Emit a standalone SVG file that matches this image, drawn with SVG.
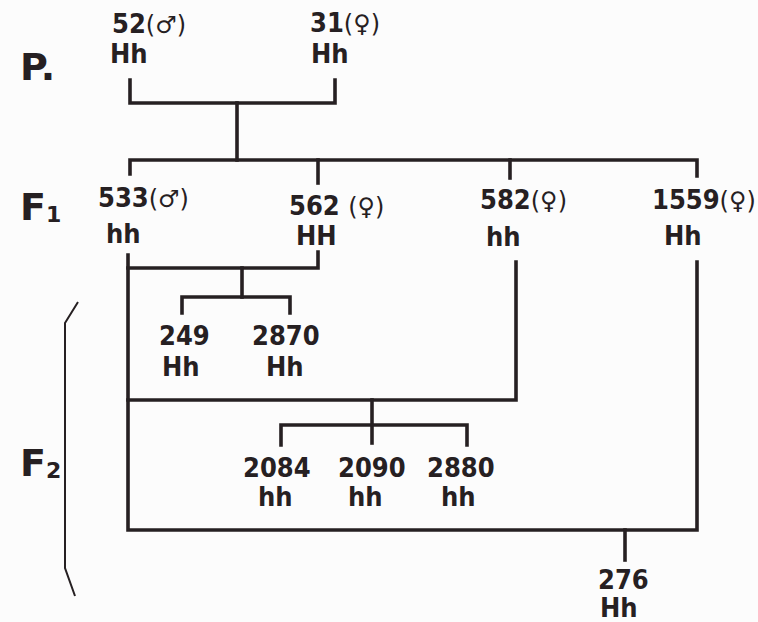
<svg xmlns="http://www.w3.org/2000/svg" width="758" height="622" viewBox="0 0 758 622">
<style>
text{font-family:"DejaVu Sans Condensed","DejaVu Sans",sans-serif;font-weight:bold;fill:#262022;}
.n{font-size:27px;}
.g{font-size:27px;}
.s{font-family:"DejaVu Sans",sans-serif;font-weight:normal;font-size:24px;}
.lab{font-family:"DejaVu Sans",sans-serif;font-size:38px;}
.sub{font-size:22px;}
.ln{fill:none;stroke:#262022;stroke-width:3.6;stroke-linecap:square;stroke-linejoin:miter;}
.br{fill:none;stroke:#262022;stroke-width:2;}
</style>
<rect width="758" height="622" fill="#fcfcfc"/>
<g id="labels">
<text class="lab" x="20" y="80">P.</text>
<text class="lab" x="20" y="220">F<tspan class="sub" dy="2">1</tspan></text>
<text class="lab" x="20" y="476">F<tspan class="sub" dy="2">2</tspan></text>
<path class="br" d="M78,302 L65,323 V568 L75,596"/>
</g>
<g id="connectors">
<path class="ln" d="M130,80 V103 H335 V80"/>
<path class="ln" d="M237,103 V160"/>
<path class="ln" d="M130,174 V160 H697 V176"/>
<path class="ln" d="M318,160 V183"/>
<path class="ln" d="M510,160 V178"/>
<path class="ln" d="M128,255 V530 H697 V262"/>
<path class="ln" d="M128,268 H318 V252"/>
<path class="ln" d="M242,268 V297"/>
<path class="ln" d="M182,313 V297 H290 V313"/>
<path class="ln" d="M128,400 H516 V262"/>
<path class="ln" d="M372,400 V443"/>
<path class="ln" d="M281,445 V425 H467 V445"/>
<path class="ln" d="M625,530 V560"/>
</g>
<g id="p52"><text class="n" x="112" y="33">52<tspan class="s">(♂)</tspan></text><text class="g" x="110" y="63">Hh</text></g>
<g id="p31"><text class="n" x="310" y="32">31<tspan class="s">(♀)</tspan></text><text class="g" x="311" y="63">Hh</text></g>
<g id="f533"><text class="n" x="98" y="207">533<tspan class="s">(♂)</tspan></text><text class="g" x="106" y="243">hh</text></g>
<g id="f562"><text class="n" x="289" y="215">562 <tspan class="s">(♀)</tspan></text><text class="g" x="296" y="245">HH</text></g>
<g id="f582"><text class="n" x="480" y="209">582<tspan class="s">(♀)</tspan></text><text class="g" x="486" y="246">hh</text></g>
<g id="f1559"><text class="n" x="652" y="209">1559<tspan class="s">(♀)</tspan></text><text class="g" x="664" y="245">Hh</text></g>
<g id="c249"><text class="n" x="159" y="345">249</text><text class="g" x="162" y="376">Hh</text></g>
<g id="c2870"><text class="n" x="252" y="345">2870</text><text class="g" x="266" y="376">Hh</text></g>
<g id="c2084"><text class="n" x="243" y="477">2084</text><text class="g" x="258" y="506">hh</text></g>
<g id="c2090"><text class="n" x="338" y="477">2090</text><text class="g" x="348" y="506">hh</text></g>
<g id="c2880"><text class="n" x="427" y="477">2880</text><text class="g" x="441" y="506">hh</text></g>
<g id="c276"><text class="n" x="598" y="589">276</text><text class="g" x="600" y="617">Hh</text></g>
</svg>
